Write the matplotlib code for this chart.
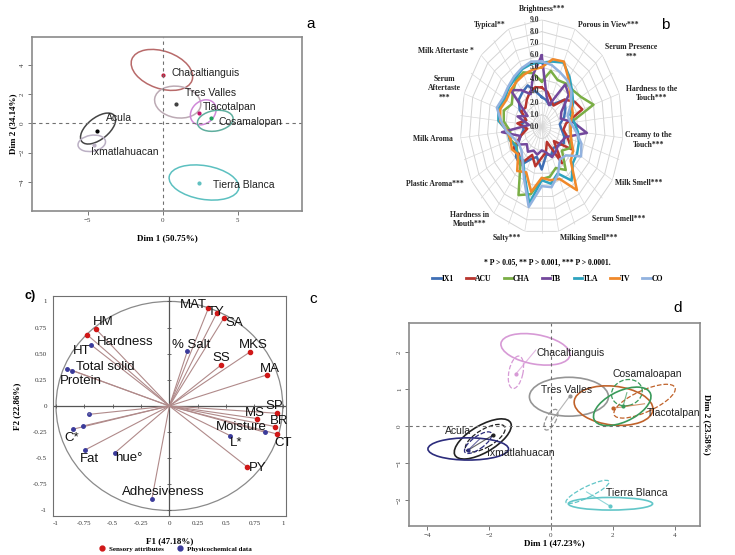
import matplotlib.pyplot as plt
import numpy as np
from matplotlib.patches import Ellipse
from matplotlib.lines import Line2D

plt.rcParams['font.family'] = ['Liberation Sans', 'DejaVu Sans']
SERIF = ['Liberation Serif', 'DejaVu Serif']

# ---------------- panel a: PCA of individuals
a_names = ['Chacaltianguis', 'Tres Valles', 'Tlacotalpan', 'Cosamalopan',
           'Acula', 'Ixmatlahuacan', 'Tierra Blanca']
a_x = [0.0, 0.9, 2.4, 3.2, -4.4, -4.6, 2.45]
a_y = [3.3, 1.35, 0.7, 0.35, -0.55, -1.5, -4.1]
a_ell_x = [-0.05, 1.0, 2.7, 3.5, -4.3, -4.72, 2.75]
a_ell_y = [3.65, 1.45, 0.75, 0.17, -0.36, -1.37, -4.05]
a_ell_w = [4.26, 3.1, 1.9, 2.4, 2.8, 1.85, 4.7]
a_ell_h = [2.55, 2.15, 1.5, 1.4, 1.46, 1.1, 2.3]
a_ell_ang = [-20, -10, 45, 10, 40, 10, -10]
a_ell_col = ['#b86a6a', '#bcaab4', '#d088d8', '#5fae9e', '#454545', '#bbb0c4', '#5cc0c0']
a_pt_col = ['#c02040', '#404040', '#c0106a', '#20a060', '#000000', '#bbb0c4', '#60c0c0']
a_lab_x = [0.58, 1.47, 2.69, 3.69, -3.75, -4.75, 3.35]
a_lab_y = [3.42, 2.05, 1.1, 0.1, 0.34, -1.94, -4.2]

# ---------------- panel b: sensory radar
b_attr = ['Brightness***', 'Porous in View***', 'Serum Presence\n***',
          'Hardness to the\nTouch***', 'Creamy to the\nTouch***', 'Milk Smell***',
          'Serum Smell***', 'Milking Smell***', 'Salty***', 'Hardness in\nMouth***',
          'Plastic Aroma***', 'Milk Aroma', 'Serum\nAftertaste\n***',
          'Milk Aftertaste *', 'Typical**']
b_series = ['IX1', 'ACU', 'CHA', 'TB', 'TLA', 'TV', 'CO']
b_colors = ['#3f6fb5', '#b8352e', '#7aae45', '#73489c', '#2ea3bf', '#f0892a', '#92b2df']
IX1 = [2.5, 2.3, 2.0, 2.4, 3.4, 3.0, 2.6, 2.0, 2.2, 2.6, 2.8, 2.4, 2.2, 2.6, 2.4,
       3.6, 2.6, 3.0, 4.0, 3.8, 3.2, 2.4, 2.0, 2.2, 1.8, 2.8, 3.4, 3.6, 3.8, 3.0]
ACU = [3.3, 3.0, 2.5, 2.2, 3.4, 4.2, 4.7, 2.7, 2.4, 3.0, 3.8, 1.8, 3.8, 1.4, 2.2,
       2.6, 3.4, 2.6, 3.8, 3.4, 3.6, 2.4, 1.6, 2.7, 1.8, 2.6, 2.4, 2.8, 3.2, 3.4]
CHA = [3.8, 4.8, 4.3, 4.5, 4.6, 5.0, 6.0, 3.2, 3.2, 3.4, 3.6, 3.0, 4.5, 3.8, 4.3,
       4.4, 5.8, 6.3, 4.0, 3.6, 3.2, 3.6, 3.5, 4.2, 4.4, 3.8, 4.3, 4.8, 5.0, 4.6]
TB = [6.0, 2.6, 2.0, 4.4, 4.0, 2.5, 2.2, 3.5, 5.0, 2.8, 2.5, 2.4, 2.6, 2.8, 2.2,
      2.0, 2.4, 2.2, 2.6, 2.2, 3.0, 2.5, 4.4, 1.4, 2.8, 1.8, 4.6, 3.8, 3.0, 4.5]
TLA = [5.4, 5.6, 5.9, 5.2, 4.5, 4.0, 3.3, 3.6, 4.0, 4.3, 4.5, 4.6, 5.6, 4.3, 4.9,
       4.5, 6.6, 4.6, 3.5, 3.6, 3.3, 3.7, 3.8, 4.8, 5.0, 4.7, 4.9, 5.0, 5.3, 5.4]
TV = [5.0, 5.8, 6.0, 5.0, 4.2, 3.8, 3.6, 3.2, 3.2, 3.4, 4.0, 4.3, 6.6, 4.8, 4.6,
      4.3, 5.6, 4.2, 4.6, 3.5, 3.8, 3.6, 3.8, 4.6, 4.8, 4.5, 4.6, 4.7, 4.8, 4.9]
CO = [5.5, 5.3, 5.0, 4.8, 4.4, 3.7, 3.0, 3.2, 3.8, 4.6, 5.0, 3.6, 3.4, 4.4, 5.2,
      5.0, 6.9, 4.8, 3.6, 3.0, 2.9, 3.2, 3.9, 4.5, 5.2, 4.9, 5.0, 5.2, 5.4, 5.6]
b_rings = [0, 1, 2, 3, 4, 5, 6, 7, 8, 9]
# label placement (angle in degrees clockwise from top, radius in scale units)
b_lab_ang = [0, 40.8, 57.5, 76.9, 95.4, 114.1, 132.6, 151.3, 202.3, 225.4,
             247.9, 264.9, 286.7, 301.2, 326]
b_lab_r = [9.87, 11.3, 11.7, 12.4, 11.8, 11.65, 11.5, 10.7, 10.1, 11.1,
           12.7, 12.0, 11.2, 12.3, 10.3]

# ---------------- panel c: correlation circle
c_sens = ['MAT', 'TY', 'SA', 'MKS', 'SS', 'MA', 'SP', 'MS', 'BR', 'CT', 'PY', 'HM', 'HT']
c_sens_x = [0.344, 0.42, 0.483, 0.712, 0.453, 0.86, 0.948, 0.777, 0.936, 0.948, 0.683, -0.647, -0.724]
c_sens_y = [0.935, 0.893, 0.845, 0.517, 0.389, 0.297, -0.07, -0.121, -0.198, -0.268, -0.58, 0.734, 0.68]
c_phys = ['Hardness', '% Salt', 'Total solid', 'Protein', 'C*', 'a*', 'b*', 'Fat',
          'hue°', 'Adhesiveness', 'Moisture', 'L*']
c_phys_x = [-0.694, 0.159, -0.856, -0.9, -0.853, -0.759, -0.706, -0.744, -0.479, -0.155, 0.845, 0.536]
c_phys_y = [0.587, 0.526, 0.338, 0.357, -0.223, -0.191, -0.08, -0.421, -0.447, -0.893, -0.252, -0.284]
c_sens_lx = [0.094, 0.335, 0.49, 0.609, 0.377, 0.80, 0.845, 0.668, 0.883, 0.924, 0.697, -0.671, -0.847]
c_sens_ly = [0.967, 0.90, 0.797, 0.584, 0.456, 0.357, 0.0, -0.07, -0.14, -0.351, -0.596, 0.807, 0.526]
c_phys_lx = [-0.641, 0.021, -0.823, -0.965, -0.929, None, None, -0.794, -0.479, -0.42, 0.412, 0.536]
c_phys_ly = [0.61, 0.584, 0.37, 0.242, -0.309, None, None, -0.51, -0.50, -0.82, -0.198, -0.351]
c_ticks = [-1, -0.75, -0.5, -0.25, 0, 0.25, 0.5, 0.75, 1]
c_xticklab = ['-1', '-0.75', '-0.5', '-0.25', '0', '0.25', '0.5', '0.75', '1']
c_yticklab = ['-1', '-0.75', '-0.5', '-0.25', '0', '0.25', '0.50', '0.75', '1']

# ---------------- panel d: MFA individuals with partial ellipses
d_names = ['Chacaltianguis', 'Tres Valles', 'Tlacotalpan', 'Cosamaloapan',
           'Acula', 'Ixmatlahuacan', 'Tierra Blanca']
d_col = ['#d79ad6', '#959595', '#c0622a', '#3a9a5a', '#222222', '#2c2c7c', '#62c6c8']
d_x = [-1.13, 0.61, 2.0, 2.33, -1.86, -2.67, 1.9]
d_y = [1.41, 0.81, 0.48, 0.54, -0.24, -0.65, -2.16]
d_px = [-0.49, 0.0, 3.02, 2.45, -2.67, -2.3, 1.15]
d_py = [2.05, 0.12, 0.6, 0.9, -0.65, -0.35, -1.78]
d_ell_x = [-0.5, 0.58, 2.02, 2.3, -2.2, -2.67, 1.92]
d_ell_y = [2.07, 0.79, 0.55, 0.53, -0.35, -0.62, -2.1]
d_ell_w = [2.25, 2.55, 2.55, 1.95, 2.0, 2.6, 2.72]
d_ell_h = [0.8, 1.05, 1.05, 0.85, 0.75, 0.6, 0.34]
d_ell_ang = [-8, 0, -5, 20, 25, 0, 0]
d_dash_x = [-1.13, 0.0, 3.02, 2.45, -2.12, -2.35, 1.18]
d_dash_y = [1.45, 0.17, 0.67, 0.9, -0.33, -0.45, -1.78]
d_dash_w = [0.9, 0.65, 2.1, 1.0, 1.4, 1.0, 1.5]
d_dash_h = [0.45, 0.3, 0.6, 0.7, 0.5, 0.35, 0.3]
d_dash_ang = [75, 55, 20, 10, 25, 30, 22]
d_lab_x = [-0.46, -0.33, 3.09, 1.98, -3.42, -2.07, 1.77]
d_lab_y = [1.98, 0.97, 0.34, 1.40, -0.14, -0.74, -1.80]

fig = plt.figure(figsize=(7.35, 5.55), dpi=100)

# ---------------- a
ax = fig.add_axes([0.0435, 0.6198, 0.3673, 0.3135])
for i in range(len(a_names)):
    ax.add_patch(Ellipse((a_ell_x[i], a_ell_y[i]), a_ell_w[i], a_ell_h[i],
                         angle=a_ell_ang[i], fill=False, ec=a_ell_col[i], lw=1.1))
    ax.plot(a_x[i], a_y[i], 'o', ms=2, color=a_pt_col[i])
    ax.text(a_lab_x[i], a_lab_y[i], a_names[i], fontsize=7.5, va='center', color='#222222')
ax.axhline(0, ls=(0, (3, 3)), color='#707070', lw=0.8)
ax.axvline(0, ls=(0, (3, 3)), color='#707070', lw=0.8)
ax.set_xlim(-8.7, 9.27)
ax.set_ylim(-6, 5.9)
ax.set_xticks([-5, 0, 5])
ax.set_yticks([-4, -2, 0, 2, 4])
ax.tick_params(labelsize=5, length=3, width=0.6, color='#606060', labelcolor='#404040', pad=2)
for lab in ax.get_xticklabels() + ax.get_yticklabels():
    lab.set_family(SERIF)
for lab in ax.get_yticklabels():
    lab.set_rotation(90)
    lab.set_va('center')
for s in ax.spines.values():
    s.set_color('#8a8a8a')
    s.set_linewidth(1.2)
ax.set_xlabel('Dim 1 (50.75%)', family=SERIF, weight='bold', fontsize=6.5, labelpad=8)
ax.set_ylabel('Dim 2 (34.14%)', family=SERIF, weight='bold', fontsize=6.5, labelpad=2)
fig.text(0.422, 0.957, 'a', fontsize=11, ha='center', va='center')

# ---------------- b
axb = fig.add_axes([0.6259, 0.5789, 0.2223, 0.3856], projection='polar')
axb.set_aspect('auto')
axb.set_theta_zero_location('N')
axb.set_theta_direction(-1)
n = len(IX1)
theta = np.arange(n) * 2 * np.pi / n
ring_t = np.arange(16) * 2 * np.pi / 15
for r in b_rings[1:]:
    axb.plot(ring_t, [r] * 16, color='#d4d4d4', lw=0.7)
for t in theta:
    axb.plot([t, t], [0, 9], color='#d8d8d8', lw=0.5)
for name, vals, col in zip(b_series, [IX1, ACU, CHA, TB, TLA, TV, CO], b_colors):
    axb.plot(np.r_[theta, theta[0]], np.r_[vals, vals[0]], color=col, lw=1.8, label=name)
for r in b_rings:
    axb.annotate('%.1f' % r, xy=(0, r), xytext=(-2, 0), textcoords='offset points',
                 ha='right', va='center', fontsize=5.5, family=SERIF, weight='bold', color='#333333')
for lab, ang, r in zip(b_attr, b_lab_ang, b_lab_r):
    axb.text(np.deg2rad(ang), r, lab, ha='center', va='center', fontsize=5.5,
             family=SERIF, weight='bold', multialignment='center', color='#222222')
axb.set_ylim(0, 9)
axb.set_axis_off()
fig.text(0.905, 0.955, 'b', fontsize=11, ha='center', va='center')
fig.text(0.744, 0.528, '* P > 0.05, ** P > 0.001, *** P > 0.0001.', ha='center', va='center',
         fontsize=5.5, family=SERIF, weight='bold')
handles = [Line2D([], [], color=c, lw=2) for c in b_colors]
fig.legend(handles, b_series, loc='center', bbox_to_anchor=(0.745, 0.497), ncol=7,
           frameon=False, handlelength=1.1, handletextpad=0.1, columnspacing=1.6,
           prop={'family': SERIF, 'weight': 'bold', 'size': 5.5})

# ---------------- c
axc = fig.add_axes([0.0716, 0.0708, 0.3177, 0.3955])
axc.add_patch(Ellipse((0, 0), 2, 2, fill=False, ec='#8a8a8a', lw=0.9))
axc.axhline(0, color='#555555', lw=0.9)
axc.axvline(0, color='#555555', lw=0.9)
axc.plot(c_ticks, [0] * 9, '|', color='#555555', ms=3, mew=0.6)
axc.plot([0] * 9, c_ticks, '_', color='#555555', ms=3, mew=0.6)
for i in range(len(c_sens)):
    axc.plot([0, c_sens_x[i]], [0, c_sens_y[i]], color='#b08a8a', lw=0.8)
for i in range(len(c_phys)):
    axc.plot([0, c_phys_x[i]], [0, c_phys_y[i]], color='#b08a8a', lw=0.8)
axc.plot(c_sens_x, c_sens_y, 'o', color='#d01818', ms=3)
axc.plot(c_phys_x, c_phys_y, 'o', color='#3a3a9a', ms=2.5)
for i in range(len(c_sens)):
    axc.text(c_sens_lx[i], c_sens_ly[i], c_sens[i], fontsize=9.5, va='center', color='#111111')
for i in range(len(c_phys)):
    if c_phys_lx[i] is not None:
        axc.text(c_phys_lx[i], c_phys_ly[i], c_phys[i], fontsize=9.5, va='center', color='#111111')
axc.text(-0.72, -0.08, 'a*', fontsize=3, color='#9090b0', va='center')
axc.set_xlim(-1.03, 1.03)
axc.set_ylim(-1.05, 1.05)
axc.set_xticks(c_ticks)
axc.set_xticklabels(c_xticklab)
axc.set_yticks(c_ticks)
axc.set_yticklabels(c_yticklab)
axc.tick_params(labelsize=5, length=0, pad=4, labelcolor='#333333')
for lab in axc.get_xticklabels() + axc.get_yticklabels():
    lab.set_family(SERIF)
for s in axc.spines.values():
    s.set_color('#707070')
    s.set_linewidth(0.8)
axc.set_xlabel('F1 (47.18%)', family=SERIF, weight='bold', fontsize=6.5, labelpad=8)
axc.set_ylabel('F2 (22.86%)', family=SERIF, weight='bold', fontsize=6.5, labelpad=8)
fig.text(0.041, 0.466, 'c)', fontsize=9, weight='bold', ha='center', va='center')
fig.text(0.426, 0.461, 'c', fontsize=11, ha='center', va='center')
lh = [Line2D([], [], ls='', marker='o', color='#d01818', ms=3.5),
      Line2D([], [], ls='', marker='o', color='#3a3a9a', ms=3.5)]
fig.legend(lh, ['Sensory attributes', 'Physicochemical data'], loc='center',
           bbox_to_anchor=(0.236, 0.011), ncol=2, frameon=False, handletextpad=0.1,
           columnspacing=1.2, prop={'family': SERIF, 'weight': 'bold', 'size': 5})

# ---------------- d
axd = fig.add_axes([0.5565, 0.0523, 0.3959, 0.3663])
for i in range(len(d_names)):
    axd.add_patch(Ellipse((d_ell_x[i], d_ell_y[i]), d_ell_w[i], d_ell_h[i],
                          angle=d_ell_ang[i], fill=False, ec=d_col[i], lw=1.2))
    axd.add_patch(Ellipse((d_dash_x[i], d_dash_y[i]), d_dash_w[i], d_dash_h[i],
                          angle=d_dash_ang[i], fill=False, ec=d_col[i], lw=0.9, ls='--'))
    axd.plot([d_x[i], d_px[i]], [d_y[i], d_py[i]], color=d_col[i], lw=0.8, alpha=0.7)
    axd.plot(d_x[i], d_y[i], 'o', ms=2, color=d_col[i])
    axd.text(d_lab_x[i], d_lab_y[i], d_names[i], fontsize=7.5, va='center', color='#222222')
axd.axhline(0, ls=(0, (3, 3)), color='#707070', lw=0.8)
axd.axvline(0, ls=(0, (3, 3)), color='#707070', lw=0.8)
axd.set_xlim(-4.58, 4.81)
axd.set_ylim(-2.7, 2.79)
axd.set_xticks([-4, -2, 0, 2, 4])
axd.set_yticks([-2, -1, 0, 1, 2])
axd.tick_params(labelsize=5, length=3, width=0.6, color='#606060', labelcolor='#404040', pad=2)
for lab in axd.get_xticklabels() + axd.get_yticklabels():
    lab.set_family(SERIF)
for lab in axd.get_yticklabels():
    lab.set_rotation(90)
    lab.set_va('center')
for s in axd.spines.values():
    s.set_color('#8a8a8a')
    s.set_linewidth(1.2)
axd.set_xlabel('Dim 1 (47.23%)', family=SERIF, weight='bold', fontsize=6.5, labelpad=1)
axd.yaxis.set_label_position('right')
axd.set_ylabel('Dim 2 (23.58%)', family=SERIF, weight='bold', fontsize=6.5, rotation=270, labelpad=8)
fig.text(0.922, 0.445, 'd', fontsize=11, ha='center', va='center')

fig.savefig('out.png', dpi=100)
